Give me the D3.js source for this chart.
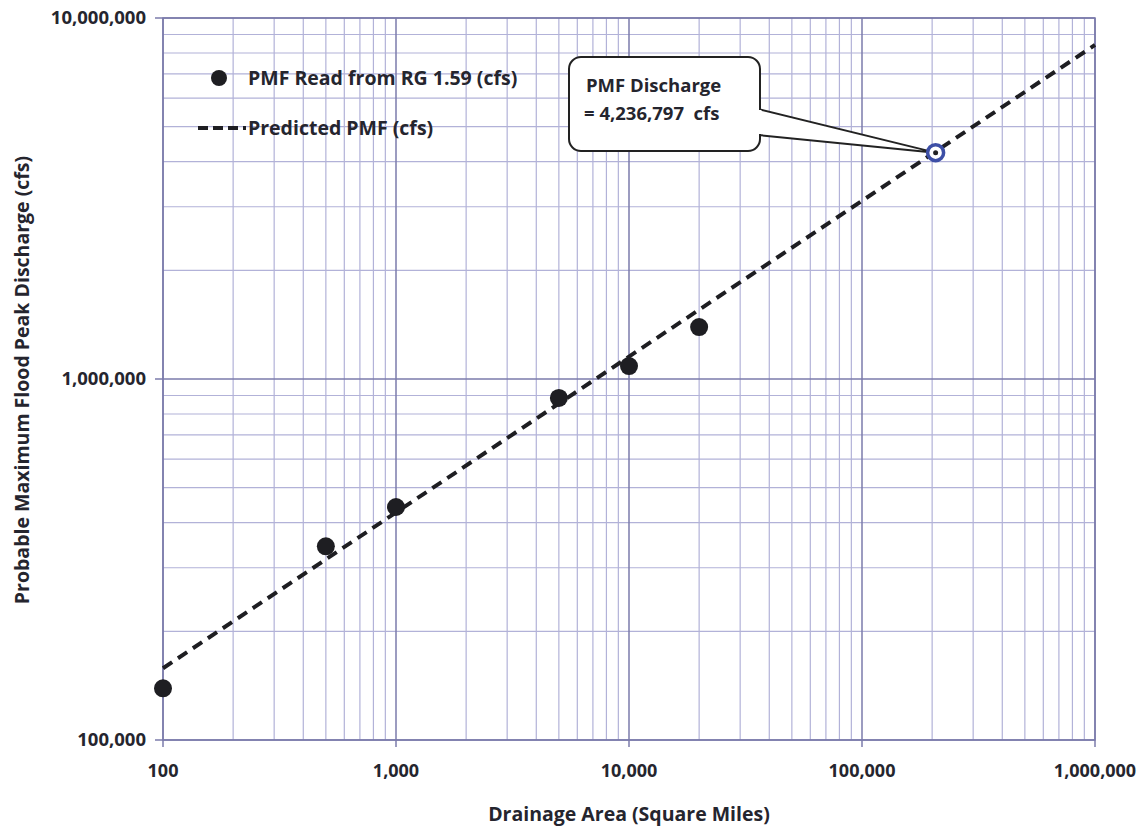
<!DOCTYPE html>
<html>
<head>
<meta charset="utf-8">
<script src="https://cdn.jsdelivr.net/npm/d3@7"></script>
<style>
  body { margin: 0; background: #fff; }
  text { font-family: "Open Sans", "Noto Sans", sans-serif; font-weight: bold; fill: #25252e; }
</style>
</head>
<body>
<div id="chart"></div>
<script>
// values
const areas = [100, 500, 1000, 5000, 10000, 20000];
const pmfRead = [139000, 344000, 442000, 886000, 1086000, 1393000];
const predictedArea = [100, 1000000];
const predictedPmf = [158000, 8420000];
const siteArea = 207000;
const siteDischarge = 4236797;
const xTicks = [100, 1000, 10000, 100000, 1000000];
const yTicks = [100000, 1000000, 10000000];

const width = 1148;
const height = 828;
const margin = {top: 18, right: 53, bottom: 88, left: 163};

const svg = d3.select('#chart').append('svg')
    .attr('width', width)
    .attr('height', height);

const x = d3.scaleLog()
    .domain([100, 1000000])
    .range([margin.left, width - margin.right]);

const y = d3.scaleLog()
    .domain([100000, 10000000])
    .range([height - margin.bottom, margin.top]);

// minor grid: 2..9 in every decade
const minorX = [];
for (let d = 100; d < 1000000; d *= 10) {
    for (let k = 2; k <= 9; k++) minorX.push(d * k);
}
const minorY = [];
for (let d = 100000; d < 10000000; d *= 10) {
    for (let k = 2; k <= 9; k++) minorY.push(d * k);
}

const grid = svg.append('g');
grid.selectAll('.vminor')
    .data(minorX)
    .join('line')
        .attr('x1', d => x(d)).attr('x2', d => x(d))
        .attr('y1', margin.top).attr('y2', height - margin.bottom)
        .attr('stroke', '#b2b2d8')
        .attr('stroke-width', 1.2);
grid.selectAll('.hminor')
    .data(minorY)
    .join('line')
        .attr('y1', d => y(d)).attr('y2', d => y(d))
        .attr('x1', margin.left).attr('x2', width - margin.right)
        .attr('stroke', '#b2b2d8')
        .attr('stroke-width', 1.2);

// major grid lines + ticks
grid.selectAll('.vmajor')
    .data(xTicks)
    .join('line')
        .attr('x1', d => x(d)).attr('x2', d => x(d))
        .attr('y1', margin.top).attr('y2', height - margin.bottom + 7)
        .attr('stroke', '#7b7bab')
        .attr('stroke-width', 1.5);
grid.selectAll('.hmajor')
    .data(yTicks)
    .join('line')
        .attr('y1', d => y(d)).attr('y2', d => y(d))
        .attr('x1', margin.left - 8).attr('x2', width - margin.right)
        .attr('stroke', '#7b7bab')
        .attr('stroke-width', 1.5);

// frame
svg.append('rect')
    .attr('x', margin.left)
    .attr('y', margin.top)
    .attr('width', width - margin.left - margin.right)
    .attr('height', height - margin.top - margin.bottom)
    .attr('fill', 'none')
    .attr('stroke', '#7b7bab')
    .attr('stroke-width', 1.5);

// tick labels
svg.selectAll('.xlab')
    .data(xTicks)
    .join('text')
        .attr('x', d => x(d))
        .attr('y', height - margin.bottom + 37)
        .attr('text-anchor', 'middle')
        .attr('font-size', 18)
        .text(d => d3.format(',')(d));

svg.selectAll('.ylab')
    .data(yTicks)
    .join('text')
        .attr('x', margin.left - 17)
        .attr('y', d => y(d) + 6)
        .attr('text-anchor', 'end')
        .attr('font-size', 18.5)
        .text(d => d3.format(',')(d));

// axis titles
svg.append('text')
    .attr('x', (margin.left + width - margin.right) / 2)
    .attr('y', 821)
    .attr('text-anchor', 'middle')
    .attr('font-size', 19.5)
    .text('Drainage Area (Square Miles)');

svg.append('text')
    .attr('transform', `translate(29, 380) rotate(-90)`)
    .attr('text-anchor', 'middle')
    .attr('font-size', 19.5)
    .text('Probable Maximum Flood Peak Discharge (cfs)');

// predicted line
const line = d3.line()
    .x(d => x(d[0]))
    .y(d => y(d[1]));

svg.append('path')
    .datum(d3.zip(predictedArea, predictedPmf))
    .attr('d', line)
    .attr('fill', 'none')
    .attr('stroke', '#1e1e22')
    .attr('stroke-width', 4)
    .attr('stroke-dasharray', '11,7');

// observed points
svg.selectAll('.pt')
    .data(d3.zip(areas, pmfRead))
    .join('circle')
        .attr('cx', d => x(d[0]))
        .attr('cy', d => y(d[1]))
        .attr('r', 9)
        .attr('fill', '#1e1e22');

// callout
const boxX = 569, boxY = 57, boxW = 191, boxH = 94;
const px = x(siteArea), py = y(siteDischarge);

svg.append('path')
    .attr('d', `M${boxX + boxW - 2},${boxY + 52} L${px},${py} L${boxX + boxW - 2},${boxY + 78}`)
    .attr('fill', '#fff')
    .attr('stroke', '#222')
    .attr('stroke-width', 2);

svg.append('rect')
    .attr('x', boxX)
    .attr('y', boxY)
    .attr('width', boxW)
    .attr('height', boxH)
    .attr('rx', 12)
    .attr('fill', '#fff')
    .attr('stroke', '#222')
    .attr('stroke-width', 2);

// hide the edge where the pointer joins the box
svg.append('line')
    .attr('x1', boxX + boxW).attr('x2', boxX + boxW)
    .attr('y1', boxY + 53).attr('y2', boxY + 77)
    .attr('stroke', '#fff')
    .attr('stroke-width', 3);

svg.append('text')
    .attr('x', boxX + 17)
    .attr('y', boxY + 35)
    .attr('font-size', 18.5)
    .text('PMF Discharge');

svg.append('text')
    .attr('x', boxX + 15)
    .attr('y', boxY + 63)
    .attr('font-size', 18.5)
    .attr('xml:space', 'preserve')
    .text('= ' + d3.format(',')(siteDischarge) + '  cfs');

// highlighted point
svg.append('circle')
    .attr('cx', px).attr('cy', py)
    .attr('r', 8)
    .attr('fill', '#fff')
    .attr('stroke', '#3d4fa6')
    .attr('stroke-width', 3.5);
svg.append('circle')
    .attr('cx', px).attr('cy', py)
    .attr('r', 2.5)
    .attr('fill', '#222');

// legend
svg.append('circle')
    .attr('cx', 219).attr('cy', 78)
    .attr('r', 8)
    .attr('fill', '#1e1e22');
svg.append('text')
    .attr('x', 248).attr('y', 85)
    .attr('font-size', 19.5)
    .text('PMF Read from RG 1.59 (cfs)');

svg.append('line')
    .attr('x1', 198).attr('x2', 246)
    .attr('y1', 128).attr('y2', 128)
    .attr('stroke', '#1e1e22')
    .attr('stroke-width', 4)
    .attr('stroke-dasharray', '10,5');
svg.append('text')
    .attr('x', 248).attr('y', 135)
    .attr('font-size', 19.5)
    .text('Predicted PMF (cfs)');
</script>
</body>
</html>
